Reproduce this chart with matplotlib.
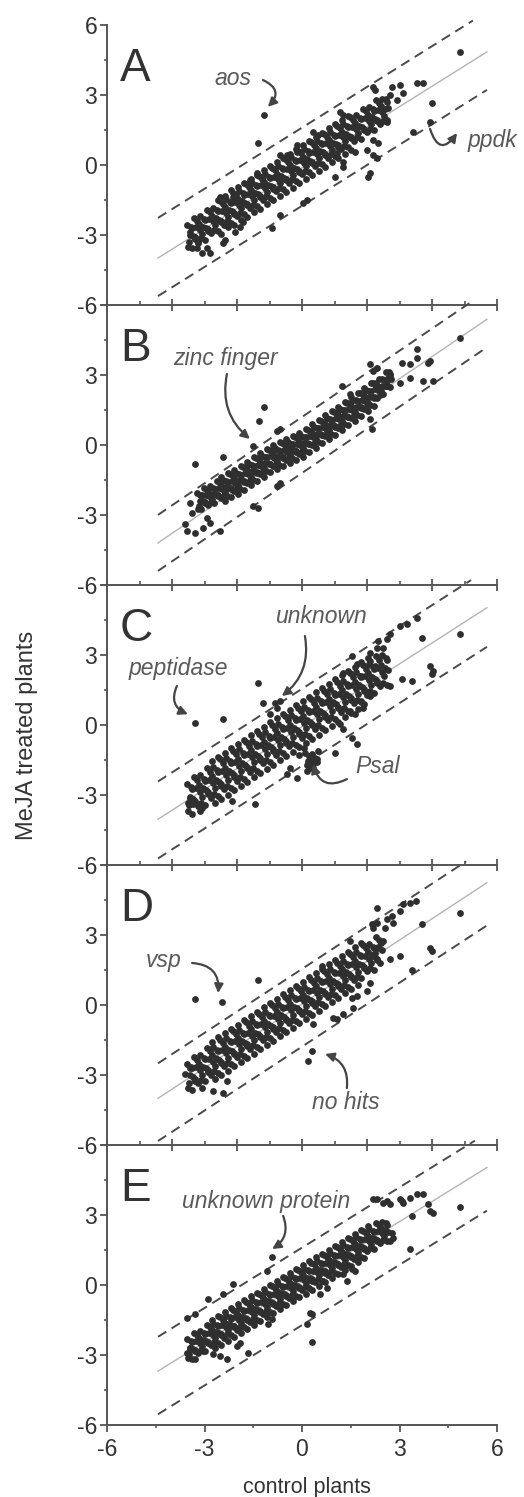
import matplotlib
matplotlib.use("Agg")
import matplotlib.pyplot as plt
import numpy as np

plt.rcParams['font.family'] = ['Liberation Sans', 'DejaVu Sans']

# ==========================
# DATOS
# ==========================

a_core = [
    (-3.5,-3.5),(-3.45,-3.0),(-3.53,-2.55),(-3.4,-3.56),(-3.35,-3.06),(-3.43,-2.66),
    (-3.3,-3.17),(-3.25,-2.67),(-3.33,-2.27),(-3.2,-3.28),(-3.15,-2.78),(-3.23,-2.38),
    (-3.1,-3.14),(-3.05,-2.64),(-3.13,-2.19),(-3.0,-3.2),(-2.95,-2.7),(-3.03,-2.3),
    (-2.9,-2.81),(-2.85,-2.31),(-2.93,-1.91),(-2.8,-2.92),(-2.75,-2.42),(-2.83,-2.02),
    (-2.7,-2.78),(-2.65,-2.28),(-2.73,-1.83),(-2.6,-2.84),(-2.55,-2.34),(-2.63,-1.94),(-2.58,-1.49),
    (-2.5,-2.45),(-2.45,-1.95),(-2.53,-1.55),(-2.48,-2.95),(-2.4,-2.56),(-2.35,-2.06),(-2.43,-1.66),(-2.38,-1.31),
    (-2.3,-2.42),(-2.25,-1.92),(-2.33,-1.47),(-2.28,-2.67),(-2.2,-2.48),(-2.15,-1.98),(-2.23,-1.58),(-2.18,-1.08),
    (-2.1,-2.09),(-2.05,-1.59),(-2.13,-1.19),(-2.08,-2.59),(-2.0,-2.2),(-1.95,-1.7),(-2.03,-1.3),(-1.98,-0.95),
    (-1.9,-2.06),(-1.85,-1.56),(-1.93,-1.11),(-1.88,-2.36),(-1.8,-2.12),(-1.75,-1.62),(-1.83,-1.22),(-1.78,-0.77),
    (-1.7,-1.73),(-1.65,-1.23),(-1.73,-0.83),(-1.68,-2.23),(-1.6,-1.84),(-1.55,-1.34),(-1.63,-0.94),(-1.58,-0.59),
    (-1.5,-1.7),(-1.45,-1.2),(-1.53,-0.75),(-1.48,-2.0),(-1.4,-1.76),(-1.35,-1.26),(-1.43,-0.86),(-1.38,-0.41),
    (-1.3,-1.37),(-1.25,-0.87),(-1.33,-0.47),(-1.28,-1.87),(-1.2,-1.48),(-1.15,-0.98),(-1.23,-0.58),(-1.18,-0.23),
    (-1.1,-1.34),(-1.05,-0.84),(-1.13,-0.39),(-1.08,-1.69),(-1.0,-1.4),(-0.95,-0.9),(-1.03,-0.5),(-0.98,-0.05),
    (-0.9,-1.01),(-0.85,-0.51),(-0.93,-0.11),(-0.88,-1.51),(-0.8,-1.12),(-0.75,-0.62),(-0.83,-0.22),(-0.78,0.13),
    (-0.7,-0.98),(-0.65,-0.48),(-0.73,-0.03),(-0.68,-1.33),(-0.6,-1.04),(-0.55,-0.54),(-0.63,-0.14),(-0.58,0.31),
    (-0.5,-0.65),(-0.45,-0.15),(-0.53,0.25),(-0.48,-1.15),(-0.4,-0.76),(-0.35,-0.26),(-0.43,0.14),(-0.38,0.49),
    (-0.3,-0.62),(-0.25,-0.12),(-0.33,0.33),(-0.28,-0.97),(-0.2,-0.68),(-0.15,-0.18),(-0.23,0.22),(-0.18,0.67),
    (-0.1,-0.29),(-0.05,0.21),(-0.13,0.61),(-0.08,-0.79),(0.0,-0.4),(0.05,0.1),(-0.03,0.5),(0.02,0.85),
    (0.1,-0.26),(0.15,0.24),(0.07,0.69),(0.12,-0.61),(0.2,-0.32),(0.25,0.18),(0.17,0.58),(0.22,1.03),
    (0.3,0.07),(0.35,0.57),(0.27,0.97),(0.32,-0.43),(0.4,-0.04),(0.45,0.46),(0.37,0.86),(0.42,1.21),
    (0.5,0.1),(0.55,0.6),(0.47,1.05),(0.52,-0.25),(0.6,0.04),(0.65,0.54),(0.57,0.94),(0.62,1.39),
    (0.7,0.43),(0.75,0.93),(0.67,1.33),(0.72,-0.07),(0.8,0.32),(0.85,0.82),(0.77,1.22),(0.82,1.57),
    (0.9,0.46),(0.95,0.96),(0.87,1.41),(0.92,0.11),(1.0,0.4),(1.05,0.9),(0.97,1.3),(1.02,1.75),
    (1.1,0.79),(1.15,1.29),(1.07,1.69),(1.12,0.29),(1.2,0.68),(1.25,1.18),(1.17,1.58),(1.22,1.93),
    (1.3,0.82),(1.35,1.32),(1.27,1.77),(1.32,0.47),(1.4,0.76),(1.45,1.26),(1.37,1.66),(1.42,2.11),
    (1.5,1.15),(1.55,1.65),(1.47,2.05),(1.52,0.65),(1.6,1.04),(1.65,1.54),(1.57,1.94),
    (1.7,1.18),(1.75,1.68),(1.67,2.13),(1.8,1.12),(1.85,1.62),(1.77,2.02),
    (1.9,1.51),(1.95,2.01),(1.87,2.41),(2.0,1.4),(2.05,1.9),(1.97,2.3),
    (2.1,1.54),(2.15,2.04),(2.07,2.49),(2.2,1.48),(2.25,1.98),(2.17,2.38),
    (2.3,1.87),(2.35,2.37),(2.27,2.77),(2.4,1.76),(2.45,2.26),(2.37,2.66),
    (2.5,1.9),(2.55,2.4),(2.47,2.85),(2.6,1.84),(2.65,2.44),(2.57,2.84),
]
a_fill = [
    (-3.48,-3.3),(-3.38,-2.71),(-3.28,-3.12),(-3.18,-2.53),(-3.08,-2.94),(-2.98,-2.35),
    (-2.88,-2.76),(-2.78,-2.17),(-2.68,-2.58),(-2.58,-1.99),(-2.48,-2.4),(-2.38,-1.81),
    (-2.28,-2.22),(-2.18,-1.63),(-2.08,-2.04),(-1.98,-1.45),(-1.88,-1.86),(-1.78,-1.27),
    (-1.68,-1.68),(-1.58,-1.09),(-1.48,-1.5),(-1.38,-0.91),(-1.28,-1.32),(-1.18,-0.73),
    (-1.08,-1.14),(-0.98,-0.55),(-0.88,-0.96),(-0.78,-0.37),(-0.68,-0.78),(-0.58,-0.19),
    (-0.48,-0.6),(-0.38,-0.01),(-0.28,-0.42),(-0.18,0.17),(-0.08,-0.24),(0.02,0.35),
    (0.12,-0.06),(0.22,0.53),(0.32,0.12),(0.42,0.71),(0.52,0.3),(0.62,0.89),
    (0.72,0.48),(0.82,1.07),(0.92,0.66),(1.02,1.25),(1.12,0.84),(1.22,1.43),
    (1.32,1.02),(1.42,1.61),(1.52,1.2),(1.62,1.79),(1.72,1.38),(1.82,1.97),
    (1.92,1.56),(2.02,2.15),(2.12,1.74),(2.22,2.33),(2.32,1.92),(2.42,2.51),
    (2.52,2.1),(2.62,2.69),
]
a_out = [
    (4.86,4.83),(-1.16,2.14),(-1.34,0.93),(4.01,2.67),(3.94,1.86),(3.43,1.43),(3.53,3.5),(3.73,3.5),
    (3.02,3.43),(2.76,3.36),(2.19,3.36),(2.25,3.21),(3.12,3.07),(2.71,3.0),(2.91,2.79),(2.6,1.93),
    (2.19,1.07),(2.35,0.93),(1.99,0.64),(2.19,0.43),(2.3,0.29),(2.09,-0.36),(2.04,-0.5),(1.63,0.57),
    (1.27,0.14),(1.27,-0.07),(1.01,-0.5),(1.07,0.5),(0.35,1.43),(0.5,1.29),(1.17,2.29),(1.27,2.14),
    (-0.16,0.86),(-0.16,0.57),(-0.68,0.43),(-0.47,0.43),(-0.93,-2.71),(0.04,-1.64),(0.14,-1.5),
    (-0.68,-2.14),(-2.37,-3.21),(-2.42,-3.36),(-2.93,-3.57),(-2.83,-3.79),(-3.24,-3.57),(-3.19,-3.36),
    (-3.09,-3.79),(-3.29,-3.07),(-3.45,-2.86),(-2.06,-2.86),(-1.91,-2.64),(-1.81,-2.43),(-2.52,-1.36),
    (-2.11,-1.36),(-1.6,-0.64),(-1.4,-0.36),(-1.24,-0.5),
]

b_core = [
    (-3.2,-2.74),(-3.15,-2.38),(-3.23,-2.07),(-3.1,-2.76),(-3.05,-2.41),(-3.13,-2.13),
    (-3.0,-2.48),(-2.95,-2.13),(-3.03,-1.85),(-2.9,-2.55),(-2.85,-2.2),(-2.93,-1.92),
    (-2.8,-2.44),(-2.75,-2.08),(-2.83,-1.77),(-2.7,-2.47),(-2.65,-2.12),(-2.73,-1.84),
    (-2.6,-2.19),(-2.55,-1.84),(-2.63,-1.56),(-2.5,-2.25),(-2.45,-1.9),(-2.53,-1.62),(-2.48,-1.35),
    (-2.4,-2.15),(-2.35,-1.79),(-2.43,-1.48),(-2.38,-2.38),(-2.3,-2.18),(-2.25,-1.83),(-2.33,-1.55),(-2.28,-1.21),
    (-2.2,-1.89),(-2.15,-1.54),(-2.23,-1.26),(-2.18,-2.23),(-2.1,-1.96),(-2.05,-1.61),(-2.13,-1.33),(-2.08,-1.06),
    (-2.0,-1.86),(-1.95,-1.5),(-2.03,-1.19),(-1.98,-2.09),(-1.9,-1.87),(-1.85,-1.52),(-1.93,-1.24),(-1.88,-0.9),
    (-1.8,-1.57),(-1.75,-1.22),(-1.83,-0.94),(-1.78,-1.91),(-1.7,-1.61),(-1.65,-1.26),(-1.73,-0.98),(-1.68,-0.71),
    (-1.6,-1.49),(-1.55,-1.13),(-1.63,-0.82),(-1.58,-1.72),(-1.5,-1.5),(-1.45,-1.15),(-1.53,-0.87),(-1.48,-0.53),
    (-1.4,-1.2),(-1.35,-0.85),(-1.43,-0.57),(-1.38,-1.54),(-1.3,-1.25),(-1.25,-0.9),(-1.33,-0.62),(-1.28,-0.35),
    (-1.2,-1.12),(-1.15,-0.76),(-1.23,-0.45),(-1.18,-1.35),(-1.1,-1.13),(-1.05,-0.78),(-1.13,-0.5),(-1.08,-0.16),
    (-1.0,-0.83),(-0.95,-0.48),(-1.03,-0.2),(-0.98,-1.17),(-0.9,-0.9),(-0.85,-0.55),(-0.93,-0.27),(-0.88,0.0),
    (-0.8,-0.81),(-0.75,-0.45),(-0.83,-0.14),(-0.78,-1.04),(-0.7,-0.84),(-0.65,-0.49),(-0.73,-0.21),(-0.68,0.13),
    (-0.6,-0.56),(-0.55,-0.21),(-0.63,0.07),(-0.58,-0.9),(-0.5,-0.64),(-0.45,-0.29),(-0.53,-0.01),(-0.48,0.26),
    (-0.4,-0.54),(-0.35,-0.18),(-0.43,0.13),(-0.38,-0.77),(-0.3,-0.57),(-0.25,-0.22),(-0.33,0.06),(-0.28,0.4),
    (-0.2,-0.29),(-0.15,0.06),(-0.23,0.34),(-0.18,-0.63),(-0.1,-0.37),(-0.05,-0.02),(-0.13,0.26),(-0.08,0.53),
    (0.0,-0.27),(0.05,0.09),(-0.03,0.4),(0.02,-0.5),(0.1,-0.27),(0.15,0.08),(0.07,0.36),(0.12,0.7),
    (0.2,0.03),(0.25,0.38),(0.17,0.66),(0.22,-0.31),(0.3,-0.01),(0.35,0.34),(0.27,0.62),(0.32,0.89),
    (0.4,0.11),(0.45,0.47),(0.37,0.78),(0.42,-0.12),(0.5,0.11),(0.55,0.46),(0.47,0.74),(0.52,1.08),
    (0.6,0.41),(0.65,0.76),(0.57,1.04),(0.62,0.07),(0.7,0.37),(0.75,0.72),(0.67,1.0),(0.72,1.27),
    (0.8,0.49),(0.85,0.85),(0.77,1.16),(0.82,0.26),(0.9,0.49),(0.95,0.84),(0.87,1.12),(0.92,1.46),
    (1.0,0.79),(1.05,1.14),(0.97,1.42),(1.02,0.45),(1.1,0.75),(1.15,1.1),(1.07,1.38),(1.12,1.65),
    (1.2,0.88),(1.25,1.24),(1.17,1.55),(1.22,0.65),(1.3,0.88),(1.35,1.23),(1.27,1.51),(1.32,1.85),
    (1.4,1.19),(1.45,1.54),(1.37,1.82),(1.42,0.85),(1.5,1.15),(1.55,1.5),(1.47,1.78),(1.52,2.05),
    (1.6,1.28),(1.65,1.64),(1.57,1.95),(1.62,1.05),(1.7,1.28),(1.75,1.63),(1.67,1.91),(1.72,2.25),
    (1.8,1.59),(1.85,1.94),(1.77,2.22),(1.82,1.25),(1.9,1.55),(1.95,1.9),(1.87,2.18),(1.92,2.45),
    (2.0,1.68),(2.05,2.04),(1.97,2.35),(2.02,1.45),(2.1,1.7),(2.15,2.05),(2.07,2.33),(2.12,2.67),
    (2.2,2.03),(2.25,2.38),(2.17,2.66),(2.22,1.69),(2.3,2.01),(2.35,2.36),(2.27,2.64),
    (2.4,2.16),(2.45,2.52),(2.37,2.83),(2.5,2.18),(2.55,2.53),(2.47,2.81),
    (2.6,2.51),(2.65,2.86),(2.57,3.14),(2.7,2.49),(2.75,2.84),(2.67,3.12),
]
b_fill = [
    (-3.18,-2.6),(-3.08,-2.16),(-2.98,-2.45),(-2.88,-2.02),(-2.78,-2.3),(-2.68,-1.87),
    (-2.58,-2.16),(-2.48,-1.72),(-2.38,-2.01),(-2.28,-1.58),(-2.18,-1.86),(-2.08,-1.43),
    (-1.98,-1.72),(-1.88,-1.27),(-1.78,-1.54),(-1.68,-1.08),(-1.58,-1.35),(-1.48,-0.9),
    (-1.38,-1.17),(-1.28,-0.72),(-1.18,-0.98),(-1.08,-0.53),(-0.98,-0.8),(-0.88,-0.37),
    (-0.78,-0.67),(-0.68,-0.24),(-0.58,-0.53),(-0.48,-0.11),(-0.38,-0.4),(-0.28,0.03),
    (-0.18,-0.26),(-0.08,0.16),(0.02,-0.13),(0.12,0.33),(0.22,0.06),(0.32,0.52),
    (0.42,0.25),(0.52,0.71),(0.62,0.44),(0.72,0.9),(0.82,0.63),(0.92,1.09),
    (1.02,0.82),(1.12,1.28),(1.22,1.02),(1.32,1.48),(1.42,1.22),(1.52,1.68),
    (1.62,1.42),(1.72,1.88),(1.82,1.62),(1.92,2.08),(2.02,1.82),(2.12,2.3),
    (2.22,2.06),(2.32,2.54),(2.42,2.3),(2.52,2.78),(2.62,2.54),(2.72,3.02),
]
b_out = [
    (4.86,4.6),(3.53,4.1),(3.53,3.74),(3.89,3.53),(3.94,3.6),(3.07,3.53),(3.32,3.46),(3.02,2.67),
    (3.32,2.89),(3.73,2.74),(4.04,2.74),(2.09,1.1),(2.14,0.67),(2.09,3.46),(2.19,3.17),(2.3,3.31),
    (2.6,2.74),(2.71,3.03),(1.48,2.17),(-1.5,-0.04),(-1.16,1.63),(-1.32,1.03),(-2.44,-0.51),
    (-3.29,-0.83),(-1.34,-2.69),(-1.5,-2.61),(-2.52,-3.69),(-3.55,-3.69),(-3.29,-3.76),(-3.04,-3.54),
    (-2.83,-3.33),(-2.93,-3.11),(-3.4,-2.9),(-3.45,-2.47),(-3.6,-3.4),(-0.78,-1.76),(-0.68,-1.61),
    (-0.68,0.67),(-0.78,0.6),(1.22,2.53),(0.76,0.6),
]

c_core = [
    (-3.5,-3.7),(-3.45,-3.08),(-3.53,-2.52),(-3.4,-3.8),(-3.35,-3.17),(-3.43,-2.67),
    (-3.3,-3.34),(-3.25,-2.71),(-3.33,-2.21),(-3.2,-3.48),(-3.15,-2.86),(-3.23,-2.36),
    (-3.1,-3.33),(-3.05,-2.71),(-3.13,-2.15),(-3.0,-3.43),(-2.95,-2.8),(-3.03,-2.3),
    (-2.9,-2.97),(-2.85,-2.34),(-2.93,-1.84),(-2.8,-3.12),(-2.75,-2.5),(-2.83,-2.0),(-2.78,-1.55),
    (-2.7,-2.96),(-2.65,-2.34),(-2.73,-1.78),(-2.68,-3.35),(-2.6,-3.06),(-2.55,-2.43),(-2.63,-1.93),(-2.58,-1.36),
    (-2.5,-2.6),(-2.45,-1.97),(-2.53,-1.47),(-2.48,-3.17),(-2.4,-2.75),(-2.35,-2.13),(-2.43,-1.63),(-2.38,-1.18),
    (-2.3,-2.6),(-2.25,-1.98),(-2.33,-1.42),(-2.28,-2.99),(-2.2,-2.69),(-2.15,-2.06),(-2.23,-1.56),(-2.18,-0.99),
    (-2.1,-2.23),(-2.05,-1.6),(-2.13,-1.1),(-2.08,-2.8),(-2.0,-2.38),(-1.95,-1.76),(-2.03,-1.26),(-1.98,-0.81),
    (-1.9,-2.23),(-1.85,-1.61),(-1.93,-1.05),(-1.88,-2.62),(-1.8,-2.33),(-1.75,-1.7),(-1.83,-1.2),(-1.78,-0.63),
    (-1.7,-1.86),(-1.65,-1.23),(-1.73,-0.73),(-1.68,-2.43),(-1.6,-2.01),(-1.55,-1.39),(-1.63,-0.89),(-1.58,-0.44),
    (-1.5,-1.86),(-1.45,-1.24),(-1.53,-0.68),(-1.48,-2.25),(-1.4,-1.96),(-1.35,-1.33),(-1.43,-0.83),(-1.38,-0.26),
    (-1.3,-1.5),(-1.25,-0.87),(-1.33,-0.37),(-1.28,-2.07),(-1.2,-1.64),(-1.15,-1.02),(-1.23,-0.52),(-1.18,-0.07),
    (-1.1,-1.49),(-1.05,-0.87),(-1.13,-0.31),(-1.08,-1.88),(-1.0,-1.59),(-0.95,-0.96),(-1.03,-0.46),(-0.98,0.11),
    (-0.9,-1.13),(-0.85,-0.5),(-0.93,0.0),(-0.88,-1.7),(-0.8,-1.28),(-0.75,-0.66),(-0.83,-0.16),(-0.78,0.29),
    (-0.7,-1.12),(-0.65,-0.5),(-0.73,0.06),(-0.68,-1.51),(-0.6,-1.22),(-0.55,-0.59),(-0.63,-0.09),(-0.58,0.48),
    (-0.5,-0.76),(-0.45,-0.13),(-0.53,0.37),(-0.48,-1.33),(-0.4,-0.91),(-0.35,-0.29),(-0.43,0.21),(-0.38,0.66),
    (-0.3,-0.76),(-0.25,-0.14),(-0.33,0.42),(-0.28,-1.15),(-0.2,-0.85),(-0.15,-0.22),(-0.23,0.28),(-0.18,0.85),
    (-0.1,-0.39),(-0.05,0.24),(-0.13,0.74),(-0.08,-0.96),(0.0,-0.54),(0.05,0.08),(-0.03,0.58),(0.02,1.03),
    (0.1,-0.39),(0.15,0.23),(0.07,0.79),(0.12,-0.78),(0.2,-0.49),(0.25,0.14),(0.17,0.64),(0.22,1.21),
    (0.3,-0.02),(0.35,0.61),(0.27,1.11),(0.32,-0.59),(0.4,-0.17),(0.45,0.45),(0.37,0.95),(0.42,1.4),
    (0.5,-0.02),(0.55,0.6),(0.47,1.16),(0.52,-0.41),(0.6,-0.12),(0.65,0.51),(0.57,1.01),(0.62,1.58),
    (0.7,0.34),(0.75,0.97),(0.67,1.47),(0.72,-0.23),(0.8,0.2),(0.85,0.82),(0.77,1.32),(0.82,1.77),
    (0.9,0.35),(0.95,0.97),(0.87,1.53),(0.92,-0.04),(1.0,0.25),(1.05,0.88),(0.97,1.38),(1.02,1.95),
    (1.1,0.71),(1.15,1.34),(1.07,1.84),(1.12,0.14),(1.2,0.56),(1.25,1.18),(1.17,1.68),(1.22,2.13),
    (1.3,0.72),(1.35,1.34),(1.27,1.9),(1.32,0.33),(1.4,0.62),(1.45,1.25),(1.37,1.75),(1.42,2.32),
    (1.5,1.08),(1.55,1.71),(1.47,2.21),(1.52,0.51),(1.6,0.93),(1.65,1.55),(1.57,2.05),(1.62,2.5),
    (1.7,1.08),(1.75,1.7),(1.67,2.26),(1.72,0.69),(1.8,0.99),(1.85,1.62),(1.77,2.12),(1.82,2.69),
    (1.9,1.45),(1.95,2.08),(1.87,2.58),(1.92,0.88),(2.0,1.3),(2.05,1.92),(1.97,2.42),(2.02,2.87),
    (2.1,1.45),(2.15,2.07),(2.07,2.63),(2.2,1.35),(2.25,1.98),(2.17,2.48),
    (2.3,1.82),(2.35,2.45),(2.27,2.95),(2.4,1.67),(2.45,2.29),(2.37,2.79),
    (2.5,1.82),(2.55,2.44),(2.47,3.0),(2.6,1.72),(2.65,2.35),(2.57,2.85),
    (0.1,-1.2),(0.2,-1.35),(0.3,-1.25),(0.05,-1.0),(0.25,-1.55),(0.4,-1.4),
    (-0.1,-1.3),(0.15,-1.7),(0.35,-1.85),(0.5,-1.1),(0.45,-1.6),
]
c_fill = [
    (-3.48,-3.44),(-3.38,-2.75),(-3.28,-3.26),(-3.18,-2.56),(-3.08,-3.07),(-2.98,-2.38),
    (-2.88,-2.89),(-2.78,-2.2),(-2.68,-2.7),(-2.58,-2.01),(-2.48,-2.52),(-2.38,-1.83),
    (-2.28,-2.34),(-2.18,-1.64),(-2.08,-2.15),(-1.98,-1.46),(-1.88,-1.97),(-1.78,-1.28),
    (-1.68,-1.78),(-1.58,-1.09),(-1.48,-1.6),(-1.38,-0.91),(-1.28,-1.42),(-1.18,-0.72),
    (-1.08,-1.23),(-0.98,-0.54),(-0.88,-1.05),(-0.78,-0.36),(-0.68,-0.86),(-0.58,-0.17),
    (-0.48,-0.68),(-0.38,0.01),(-0.28,-0.5),(-0.18,0.2),(-0.08,-0.31),(0.02,0.38),
    (0.12,-0.13),(0.22,0.56),(0.32,0.06),(0.42,0.75),(0.52,0.24),(0.62,0.93),
    (0.72,0.42),(0.82,1.12),(0.92,0.61),(1.02,1.3),(1.12,0.79),(1.22,1.48),
    (1.32,0.98),(1.42,1.67),(1.52,1.16),(1.62,1.85),(1.72,1.34),(1.82,2.04),
    (1.92,1.53),(2.02,2.22),(2.12,1.71),(2.22,2.4),(2.32,1.9),(2.42,2.59),
    (2.52,2.08),(2.62,2.77),
]
c_out = [
    (4.86,3.91),(3.7,3.74),(3.94,2.53),(3.99,2.17),(4.04,2.31),(3.07,1.96),(3.37,1.89),(2.71,1.67),
    (3.01,4.24),(3.22,4.31),(3.53,4.6),(2.6,3.67),(2.71,3.89),(2.35,3.6),(2.3,3.31),(2.5,3.31),
    (-3.29,0.1),(-2.44,0.24),(-1.34,1.81),(-0.68,1.03),(-0.83,0.96),(-0.78,0.74),(-1.19,0.96),
    (-0.99,0.46),(1.02,-1.19),(0.19,-1.54),(0.35,-1.69),(0.45,-1.47),(0.14,-1.97),(0.25,-1.83),
    (-1.45,-3.37),(-2.16,-3.26),(-3.14,-3.69),(-3.09,-3.54),(-3.45,-3.11),(-3.5,-3.33),(-3.34,-3.4),
    (-0.47,-2.11),(-0.37,-1.83),(-0.16,-2.26),(1.17,0.03),(1.27,-0.19),(1.48,0.6),(1.63,0.46),
    (1.89,0.74),(1.83,1.03),(2.09,1.24),(1.53,-0.54),(1.68,-0.83),(1.53,2.96),(1.68,2.6),
    (1.27,2.24),(2.09,2.74),(2.25,2.53),(2.09,3.1),(1.83,2.1),
]

d_core = [
    (-3.5,-3.57),(-3.45,-3.02),(-3.53,-2.52),(-3.4,-3.64),(-3.35,-3.09),(-3.43,-2.65),
    (-3.3,-3.22),(-3.25,-2.67),(-3.33,-2.23),(-3.2,-3.34),(-3.15,-2.79),(-3.23,-2.35),
    (-3.1,-3.2),(-3.05,-2.65),(-3.13,-2.15),(-3.0,-3.27),(-2.95,-2.72),(-3.03,-2.28),
    (-2.9,-2.85),(-2.85,-2.3),(-2.93,-1.86),(-2.8,-2.98),(-2.75,-2.43),(-2.83,-1.99),(-2.78,-1.58),
    (-2.7,-2.83),(-2.65,-2.28),(-2.73,-1.78),(-2.68,-3.18),(-2.6,-2.9),(-2.55,-2.35),(-2.63,-1.91),(-2.58,-1.39),
    (-2.5,-2.48),(-2.45,-1.93),(-2.53,-1.49),(-2.48,-3.0),(-2.4,-2.61),(-2.35,-2.06),(-2.43,-1.62),(-2.38,-1.21),
    (-2.3,-2.47),(-2.25,-1.92),(-2.33,-1.42),(-2.28,-2.82),(-2.2,-2.53),(-2.15,-1.98),(-2.23,-1.54),(-2.18,-1.02),
    (-2.1,-2.11),(-2.05,-1.56),(-2.13,-1.12),(-2.08,-2.63),(-2.0,-2.24),(-1.95,-1.69),(-2.03,-1.25),(-1.98,-0.84),
    (-1.9,-2.1),(-1.85,-1.55),(-1.93,-1.05),(-1.88,-2.45),(-1.8,-2.17),(-1.75,-1.62),(-1.83,-1.18),(-1.78,-0.66),
    (-1.7,-1.74),(-1.65,-1.19),(-1.73,-0.75),(-1.68,-2.26),(-1.6,-1.87),(-1.55,-1.32),(-1.63,-0.88),(-1.58,-0.47),
    (-1.5,-1.73),(-1.45,-1.18),(-1.53,-0.68),(-1.48,-2.08),(-1.4,-1.8),(-1.35,-1.25),(-1.43,-0.81),(-1.38,-0.29),
    (-1.3,-1.38),(-1.25,-0.83),(-1.33,-0.39),(-1.28,-1.9),(-1.2,-1.5),(-1.15,-0.95),(-1.23,-0.51),(-1.18,-0.1),
    (-1.1,-1.36),(-1.05,-0.81),(-1.13,-0.31),(-1.08,-1.71),(-1.0,-1.43),(-0.95,-0.88),(-1.03,-0.44),(-0.98,0.08),
    (-0.9,-1.01),(-0.85,-0.46),(-0.93,-0.02),(-0.88,-1.53),(-0.8,-1.14),(-0.75,-0.59),(-0.83,-0.15),(-0.78,0.26),
    (-0.7,-0.99),(-0.65,-0.44),(-0.73,0.06),(-0.68,-1.34),(-0.6,-1.06),(-0.55,-0.51),(-0.63,-0.07),(-0.58,0.45),
    (-0.5,-0.64),(-0.45,-0.09),(-0.53,0.35),(-0.48,-1.16),(-0.4,-0.77),(-0.35,-0.22),(-0.43,0.22),(-0.38,0.63),
    (-0.3,-0.63),(-0.25,-0.08),(-0.33,0.42),(-0.28,-0.98),(-0.2,-0.69),(-0.15,-0.14),(-0.23,0.3),(-0.18,0.82),
    (-0.1,-0.27),(-0.05,0.28),(-0.13,0.72),(-0.08,-0.79),(0.0,-0.4),(0.05,0.15),(-0.03,0.59),(0.02,1.0),
    (0.1,-0.26),(0.15,0.29),(0.07,0.79),(0.12,-0.61),(0.2,-0.33),(0.25,0.22),(0.17,0.66),(0.22,1.18),
    (0.3,0.1),(0.35,0.65),(0.27,1.09),(0.32,-0.42),(0.4,-0.03),(0.45,0.52),(0.37,0.96),(0.42,1.37),
    (0.5,0.11),(0.55,0.66),(0.47,1.16),(0.52,-0.24),(0.6,0.04),(0.65,0.59),(0.57,1.03),(0.62,1.55),
    (0.7,0.46),(0.75,1.01),(0.67,1.45),(0.72,-0.06),(0.8,0.34),(0.85,0.89),(0.77,1.33),(0.82,1.74),
    (0.9,0.48),(0.95,1.03),(0.87,1.53),(0.92,0.13),(1.0,0.41),(1.05,0.96),(0.97,1.4),(1.02,1.92),
    (1.1,0.83),(1.15,1.38),(1.07,1.82),(1.12,0.31),(1.2,0.7),(1.25,1.25),(1.17,1.69),(1.22,2.1),
    (1.3,0.85),(1.35,1.4),(1.27,1.9),(1.32,0.5),(1.4,0.78),(1.45,1.33),(1.37,1.77),(1.42,2.29),
    (1.5,1.2),(1.55,1.75),(1.47,2.19),(1.52,0.68),(1.6,1.07),(1.65,1.62),(1.57,2.06),(1.62,2.47),
    (1.7,1.21),(1.75,1.76),(1.67,2.26),(1.72,0.86),(1.8,1.15),(1.85,1.7),(1.77,2.14),(1.82,2.66),
    (1.9,1.57),(1.95,2.12),(1.87,2.56),(2.0,1.44),(2.05,1.99),(1.97,2.43),
    (2.1,1.58),(2.15,2.13),(2.07,2.63),(2.2,1.51),(2.25,2.06),(2.17,2.5),
    (2.3,1.94),(2.35,2.49),(2.27,2.93),(2.4,1.81),(2.45,2.36),(2.37,2.8),
]
d_fill = [
    (-3.48,-3.35),(-3.38,-2.7),(-3.28,-3.17),(-3.18,-2.51),(-3.08,-2.98),(-2.98,-2.33),
    (-2.88,-2.8),(-2.78,-2.15),(-2.68,-2.61),(-2.58,-1.96),(-2.48,-2.43),(-2.38,-1.78),
    (-2.28,-2.25),(-2.18,-1.59),(-2.08,-2.06),(-1.98,-1.41),(-1.88,-1.88),(-1.78,-1.23),
    (-1.68,-1.69),(-1.58,-1.04),(-1.48,-1.51),(-1.38,-0.86),(-1.28,-1.33),(-1.18,-0.67),
    (-1.08,-1.14),(-0.98,-0.49),(-0.88,-0.96),(-0.78,-0.31),(-0.68,-0.77),(-0.58,-0.12),
    (-0.48,-0.59),(-0.38,0.06),(-0.28,-0.41),(-0.18,0.25),(-0.08,-0.22),(0.02,0.43),
    (0.12,-0.04),(0.22,0.61),(0.32,0.15),(0.42,0.8),(0.52,0.33),(0.62,0.98),
    (0.72,0.51),(0.82,1.17),(0.92,0.7),(1.02,1.35),(1.12,0.88),(1.22,1.53),
    (1.32,1.07),(1.42,1.72),(1.52,1.25),(1.62,1.9),(1.72,1.43),(1.82,2.09),
    (1.92,1.62),(2.02,2.27),(2.12,1.8),(2.22,2.45),(2.32,1.99),(2.42,2.64),
]
d_out = [
    (4.86,3.96),(3.51,4.46),(3.32,4.39),(3.12,4.31),(3.02,4.03),(2.76,3.81),(2.6,3.67),(2.81,3.53),
    (2.55,3.31),(2.3,4.17),(2.14,3.46),(2.3,3.53),(2.19,3.31),(2.5,2.74),(2.35,2.46),(2.25,2.24),
    (3.7,3.49),(3.94,2.46),(3.99,2.31),(2.71,1.96),(3.02,2.1),(3.37,1.48),(1.48,2.74),(0.6,1.67),
    (-1.34,1.06),(-2.45,0.14),(-3.29,0.24),(0.3,-1.97),(0.17,-2.4),(-3.09,-3.54),(-2.73,-3.69),
    (-2.42,-3.76),(-2.32,-3.26),(-3.6,-2.97),(-3.45,-2.69),(-3.29,-3.26),(0.96,-0.54),(1.07,-0.62),
    (1.27,-0.4),(1.53,0.31),(1.68,0.39),(1.99,0.6),(2.09,0.96),(1.58,-0.11),(0.35,-0.83),
]

e_core = [
    (-3.5,-3.12),(-3.45,-2.7),(-3.53,-2.32),(-3.4,-3.17),(-3.35,-2.75),(-3.43,-2.4),
    (-3.3,-2.83),(-3.25,-2.4),(-3.33,-2.06),(-3.2,-2.92),(-3.15,-2.49),(-3.23,-2.15),
    (-3.1,-2.78),(-3.05,-2.36),(-3.13,-1.98),(-3.0,-2.83),(-2.95,-2.41),(-3.03,-2.06),
    (-2.9,-2.5),(-2.85,-2.07),(-2.93,-1.73),(-2.8,-2.58),(-2.75,-2.15),(-2.83,-1.81),(-2.78,-1.5),
    (-2.7,-2.45),(-2.65,-2.03),(-2.73,-1.65),(-2.68,-2.72),(-2.6,-2.49),(-2.55,-2.07),(-2.63,-1.72),(-2.58,-1.33),
    (-2.5,-2.16),(-2.45,-1.73),(-2.53,-1.39),(-2.48,-2.55),(-2.4,-2.25),(-2.35,-1.82),(-2.43,-1.48),(-2.38,-1.17),
    (-2.3,-2.11),(-2.25,-1.69),(-2.33,-1.31),(-2.28,-2.38),(-2.2,-2.16),(-2.15,-1.74),(-2.23,-1.39),(-2.18,-1.0),
    (-2.1,-1.82),(-2.05,-1.39),(-2.13,-1.05),(-2.08,-2.21),(-2.0,-1.91),(-1.95,-1.48),(-2.03,-1.14),(-1.98,-0.83),
    (-1.9,-1.78),(-1.85,-1.36),(-1.93,-0.98),(-1.88,-2.05),(-1.8,-1.82),(-1.75,-1.4),(-1.83,-1.05),(-1.78,-0.66),
    (-1.7,-1.49),(-1.65,-1.06),(-1.73,-0.72),(-1.68,-1.88),(-1.6,-1.57),(-1.55,-1.14),(-1.63,-0.8),(-1.58,-0.49),
    (-1.5,-1.44),(-1.45,-1.02),(-1.53,-0.64),(-1.48,-1.71),(-1.4,-1.49),(-1.35,-1.07),(-1.43,-0.72),(-1.38,-0.33),
    (-1.3,-1.15),(-1.25,-0.72),(-1.33,-0.38),(-1.28,-1.54),(-1.2,-1.24),(-1.15,-0.81),(-1.23,-0.47),(-1.18,-0.16),
    (-1.1,-1.1),(-1.05,-0.68),(-1.13,-0.3),(-1.08,-1.37),(-1.0,-1.15),(-0.95,-0.73),(-1.03,-0.38),(-0.98,0.01),
    (-0.9,-0.82),(-0.85,-0.39),(-0.93,-0.05),(-0.88,-1.21),(-0.8,-0.9),(-0.75,-0.47),(-0.83,-0.13),(-0.78,0.18),
    (-0.7,-0.77),(-0.65,-0.35),(-0.73,0.03),(-0.68,-1.04),(-0.6,-0.81),(-0.55,-0.39),(-0.63,-0.04),(-0.58,0.35),
    (-0.5,-0.48),(-0.45,-0.05),(-0.53,0.29),(-0.48,-0.87),(-0.4,-0.57),(-0.35,-0.14),(-0.43,0.2),(-0.38,0.51),
    (-0.3,-0.43),(-0.25,-0.01),(-0.33,0.37),(-0.28,-0.7),(-0.2,-0.48),(-0.15,-0.06),(-0.23,0.29),(-0.18,0.68),
    (-0.1,-0.14),(-0.05,0.29),(-0.13,0.63),(-0.08,-0.53),(0.0,-0.23),(0.05,0.2),(-0.03,0.54),(0.02,0.85),
    (0.1,-0.1),(0.15,0.32),(0.07,0.7),(0.12,-0.37),(0.2,-0.14),(0.25,0.28),(0.17,0.63),(0.22,1.02),
    (0.3,0.19),(0.35,0.62),(0.27,0.96),(0.32,-0.2),(0.4,0.11),(0.45,0.54),(0.37,0.88),(0.42,1.19),
    (0.5,0.24),(0.55,0.66),(0.47,1.04),(0.52,-0.03),(0.6,0.19),(0.65,0.61),(0.57,0.96),(0.62,1.35),
    (0.7,0.53),(0.75,0.96),(0.67,1.3),(0.72,0.14),(0.8,0.44),(0.85,0.87),(0.77,1.21),(0.82,1.52),
    (0.9,0.58),(0.95,1.0),(0.87,1.38),(0.92,0.31),(1.0,0.53),(1.05,0.95),(0.97,1.3),(1.02,1.69),
    (1.1,0.86),(1.15,1.29),(1.07,1.63),(1.12,0.47),(1.2,0.78),(1.25,1.21),(1.17,1.55),(1.22,1.86),
    (1.3,0.91),(1.35,1.33),(1.27,1.71),(1.32,0.64),(1.4,0.87),(1.45,1.29),(1.37,1.64),(1.42,2.03),
    (1.5,1.2),(1.55,1.63),(1.47,1.97),(1.52,0.81),(1.6,1.11),(1.65,1.54),(1.57,1.88),(1.62,2.19),
    (1.7,1.25),(1.75,1.67),(1.67,2.05),(1.72,0.98),(1.8,1.2),(1.85,1.62),(1.77,1.97),(1.82,2.36),
    (1.9,1.54),(1.95,1.97),(1.87,2.31),(1.92,1.15),(2.0,1.45),(2.05,1.88),(1.97,2.22),(2.02,2.53),
    (2.1,1.58),(2.15,2.0),(2.07,2.38),(2.2,1.54),(2.25,1.96),(2.17,2.31),
    (2.3,1.87),(2.35,2.3),(2.27,2.64),(2.4,1.79),(2.45,2.22),(2.37,2.56),
    (2.5,1.92),(2.55,2.34),(2.47,2.72),(2.6,1.87),(2.65,2.29),(2.57,2.64),
]
e_fill = [
    (-3.48,-2.95),(-3.38,-2.45),(-3.28,-2.78),(-3.18,-2.28),(-3.08,-2.61),(-2.98,-2.11),
    (-2.88,-2.45),(-2.78,-1.94),(-2.68,-2.28),(-2.58,-1.77),(-2.48,-2.11),(-2.38,-1.61),
    (-2.28,-1.94),(-2.18,-1.44),(-2.08,-1.77),(-1.98,-1.27),(-1.88,-1.61),(-1.78,-1.1),
    (-1.68,-1.44),(-1.58,-0.93),(-1.48,-1.27),(-1.38,-0.77),(-1.28,-1.1),(-1.18,-0.6),
    (-1.08,-0.93),(-0.98,-0.43),(-0.88,-0.77),(-0.78,-0.26),(-0.68,-0.6),(-0.58,-0.09),
    (-0.48,-0.43),(-0.38,0.07),(-0.28,-0.26),(-0.18,0.24),(-0.08,-0.09),(0.02,0.41),
    (0.12,0.07),(0.22,0.58),(0.32,0.24),(0.42,0.75),(0.52,0.41),(0.62,0.91),
    (0.72,0.58),(0.82,1.08),(0.92,0.75),(1.02,1.25),(1.12,0.91),(1.22,1.42),
    (1.32,1.08),(1.42,1.59),(1.52,1.25),(1.62,1.75),(1.72,1.42),(1.82,1.92),
    (1.92,1.59),(2.02,2.09),(2.12,1.75),(2.22,2.26),(2.32,1.92),(2.42,2.43),
    (2.52,2.09),(2.62,2.59),
]
e_out = [
    (4.86,3.36),(3.53,3.89),(3.73,3.89),(3.32,3.74),(3.07,3.6),(3.12,3.53),(3.89,3.46),(4.04,3.1),
    (3.94,3.17),(3.37,2.96),(3.02,3.67),(2.19,3.67),(2.3,3.67),(2.5,3.53),(2.71,3.46),(2.6,3.6),
    (2.76,2.24),(2.81,2.03),(2.71,1.88),(3.32,1.53),(-0.93,1.21),(-1.09,0.6),(-2.11,0.03),
    (-2.42,-0.4),(-2.88,-0.61),(-3.29,-1.26),(-3.55,-1.4),(0.3,-2.43),(0.14,-1.69),(0.3,-1.26),
    (0.25,-1.19),(-1.04,-1.69),(-0.93,-1.47),(-1.65,-2.9),(-2.01,-2.61),(-1.91,-2.47),(-2.32,-3.19),
    (-2.52,-3.04),(-3.29,-3.19),(-3.55,-2.9),(-3.45,-2.69),(-3.04,-2.83),(-2.73,-2.97),(1.37,0.17),
    (1.53,0.67),(1.63,0.6),(1.27,0.46),(0.66,0.17),(0.76,-0.11),(0.55,-0.4),
]

# lineas: pendiente, ordenada, desplazamiento superior/inferior, fin de la linea superior
panel_letters = ["A", "B", "C", "D", "E"]
slopes = [0.873, 0.947, 0.896, 0.913, 0.862]
intercepts = [-0.12, 0.0, -0.07, 0.045, 0.13]
upper_offsets = [1.72, 1.2, 1.62, 1.5, 1.47]
lower_offsets = [-1.63, -1.2, -1.68, -1.83, -1.85]
upper_x_end = [5.26, 5.28, 5.2, 5.05, 5.32]

# anotaciones: texto, posicion del texto, cola y punta de la flecha, curvatura
notes = [
    [("aos", -2.11, 3.43, (-1.2, 3.64), (-1.05, 2.49), -0.7),
     ("ppdk", 5.85, 0.77, (3.94, 1.55), (4.77, 1.37), 1.0)],
    [("zinc finger", -2.37, 3.43, (-2.31, 3.04), (-1.6, 0.26), 0.3)],
    [("peptidase", -3.82, 2.14, (-3.85, 1.67), (-3.51, 0.46), 0.5),
     ("unknown", 0.58, 4.37, (0.09, 3.81), (-0.62, 1.24), -0.3),
     ("Psal", 2.34, -2.06, (1.38, -2.32), (0.34, -1.68), -0.6)],
    [("vsp", -4.25, 1.63, (-3.38, 1.8), (-2.58, 0.51), -0.5),
     ("no hits", 1.35, -4.46, (1.38, -3.56), (0.71, -2.1), 0.4)],
    [("unknown protein", -1.11, 3.3, (-0.58, 2.96), (-0.92, 1.54), -0.4)],
]

panels = [
    a_core + a_fill + a_out,
    b_core + b_fill + b_out,
    c_core + c_fill + c_out,
    d_core + d_fill + d_out,
    e_core + e_fill + e_out,
]

# ==========================
# FIGURA
# ==========================

W, H = 524, 1497
fig = plt.figure(figsize=(W / 100, H / 100), dpi=100)
fig.patch.set_facecolor("white")

axis_col = "#555555"
dot_col = "#2f2f2f"

for i in range(5):
    top_px = 25 + 280 * i
    ax = fig.add_axes([107 / W, 1 - (top_px + 280) / H, 390 / W, 280 / H])
    ax.set_facecolor("none")
    ax.set_xlim(-6, 6)
    ax.set_ylim(-6, 6)

    pts = np.array(panels[i])
    ax.scatter(pts[:, 0], pts[:, 1], s=24, color=dot_col, linewidths=0, zorder=3)

    m, b0 = slopes[i], intercepts[i]
    xs = np.array([-4.43, 5.69])
    ax.plot(xs, m * xs + b0, color="#b4b4b4", lw=1.0, zorder=2)
    xu = np.array([-4.43, upper_x_end[i]])
    ax.plot(xu, m * xu + b0 + upper_offsets[i], color="#4a4a4a", lw=1.4,
            linestyle=(0, (5, 3.2)), clip_on=False, zorder=2)
    ax.plot(xs, m * xs + b0 + lower_offsets[i], color="#4a4a4a", lw=1.4,
            linestyle=(0, (5, 3.2)), zorder=2)

    ax.text(-5.6, 3.6, panel_letters[i], fontsize=33, color="#333333",
            ha="left", va="baseline")

    for txt, tx, ty, tail, head, rad in notes[i]:
        ax.text(tx, ty, txt, fontsize=16.5, style="italic", color="#5a5a5a",
                ha="center", va="baseline", clip_on=False)
        ax.annotate("", xy=head, xytext=tail,
                    arrowprops=dict(arrowstyle="-|>", color="#444444", lw=1.6,
                                    mutation_scale=13, shrinkA=0, shrinkB=0,
                                    connectionstyle="arc3,rad=%s" % rad),
                    annotation_clip=False)

    for s in ["top", "right"]:
        ax.spines[s].set_visible(False)
    for s in ["left", "bottom"]:
        ax.spines[s].set_color(axis_col)
        ax.spines[s].set_linewidth(1.4)

    ax.set_yticks([-6, -3, 0, 3, 6])
    ax.set_yticks([-4.5, -1.5, 1.5, 4.5], minor=True)
    ylabels = ["-6", "-3", "0", "3", "6" if i == 0 else ""]
    ax.set_yticklabels(ylabels)
    ax.tick_params(axis="y", which="major", direction="out", length=5, width=1.3,
                   color=axis_col, labelsize=16.5, labelcolor="#333333", pad=2)
    ax.tick_params(axis="y", which="minor", direction="out", length=2.5, width=1.2,
                   color=axis_col)

    if i < 4:
        ax.set_xticks([-6, -4, -2, 0, 2, 4, 6])
        ax.set_xticks([-5, -3, -1, 1, 3, 5], minor=True)
        ax.set_xticklabels([])
        ax.tick_params(axis="x", which="major", direction="inout", length=8, width=1.3,
                       color=axis_col)
        ax.tick_params(axis="x", which="minor", direction="in", length=3, width=1.2,
                       color=axis_col)
    else:
        ax.set_xticks([-6, -3, 0, 3, 6])
        ax.set_xticks([-4.5, -1.5, 1.5, 4.5], minor=True)
        ax.set_xticklabels(["-6", "-3", "0", "3", "6"])
        ax.tick_params(axis="x", which="major", direction="out", length=5, width=1.3,
                       color=axis_col, labelsize=16.5, labelcolor="#333333", pad=4)
        ax.tick_params(axis="x", which="minor", direction="out", length=2.5, width=1.2,
                       color=axis_col)

fig.text(27 / W, 1 - 735 / H, "MeJA treated plants", rotation=90, fontsize=17,
         color="#333333", ha="center", va="center")
fig.text(307 / W, 1 - 1487 / H, "control plants", fontsize=15.5,
         color="#333333", ha="center", va="center")

fig.savefig("out.png", dpi=100)
